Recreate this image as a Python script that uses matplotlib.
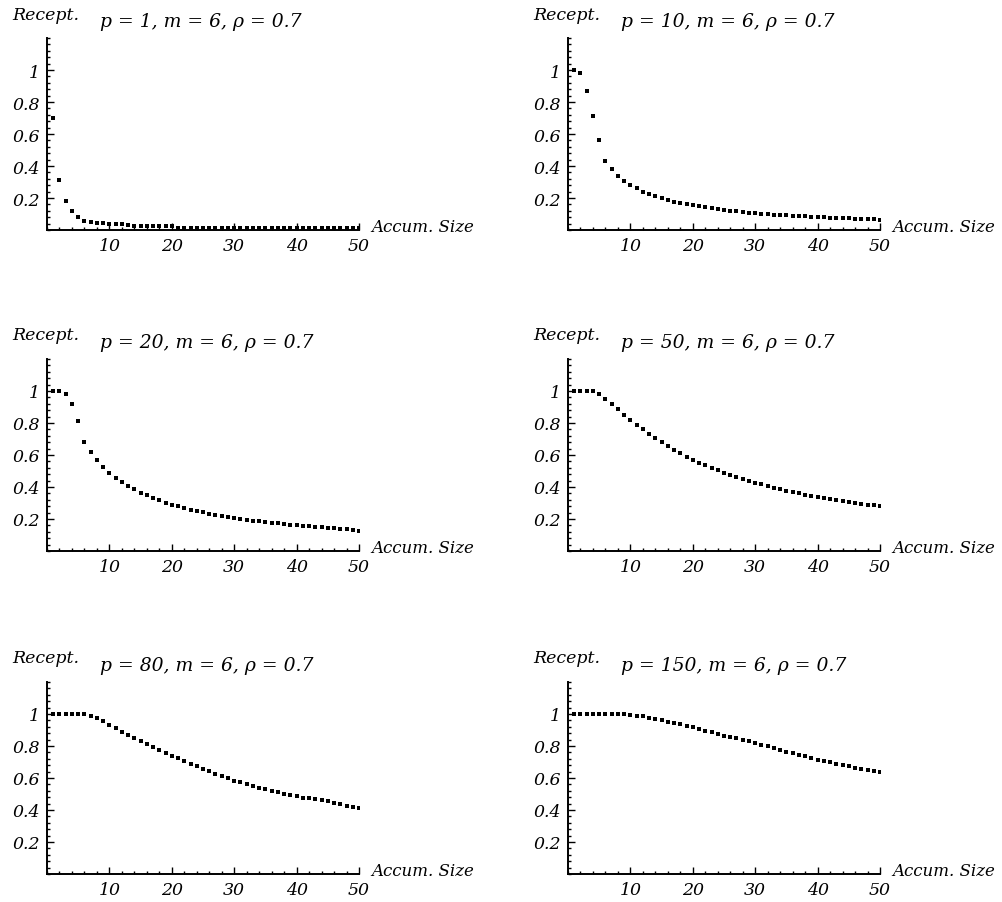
import numpy as np
import matplotlib
matplotlib.use("Agg")
import matplotlib.pyplot as plt
from matplotlib.ticker import MultipleLocator

plt.rcParams['font.family'] = ['DejaVu Serif']
plt.rcParams['font.style'] = 'italic'

#DATI

size = np.arange(1, 51)

p_values = [1, 10, 20, 50, 80, 150]
m_value = 6
rho_value = 0.7

recept_p1 = [0.70, 0.31, 0.18, 0.12, 0.08, 0.055, 0.048, 0.046, 0.044, 0.037,
             0.036, 0.035, 0.034, 0.028, 0.027, 0.027, 0.026, 0.026, 0.026, 0.025,
             0.014, 0.014, 0.013, 0.013, 0.013, 0.013, 0.013, 0.012, 0.012, 0.012,
             0.012, 0.012, 0.012, 0.012, 0.011, 0.011, 0.011, 0.011, 0.011, 0.011,
             0.011, 0.011, 0.010, 0.010, 0.010, 0.010, 0.010, 0.010, 0.010, 0.010]

recept_p10 = [1.0, 0.983, 0.87, 0.71, 0.56, 0.43, 0.38, 0.34, 0.306, 0.28,
              0.26, 0.24, 0.225, 0.21, 0.197, 0.187, 0.178, 0.17, 0.163, 0.156,
              0.15, 0.143, 0.137, 0.131, 0.126, 0.121, 0.117, 0.113, 0.109, 0.105,
              0.102, 0.099, 0.096, 0.094, 0.092, 0.089, 0.087, 0.085, 0.083, 0.081,
              0.079, 0.077, 0.076, 0.074, 0.073, 0.071, 0.070, 0.068, 0.066, 0.060]

recept_p20 = [1.0, 1.0, 0.983, 0.92, 0.81, 0.68, 0.62, 0.57, 0.525, 0.49,
              0.455, 0.43, 0.405, 0.385, 0.365, 0.347, 0.331, 0.316, 0.302, 0.29,
              0.279, 0.268, 0.258, 0.249, 0.241, 0.233, 0.226, 0.219, 0.212, 0.206,
              0.2, 0.195, 0.19, 0.185, 0.18, 0.176, 0.172, 0.168, 0.164, 0.16,
              0.157, 0.154, 0.151, 0.148, 0.145, 0.142, 0.139, 0.136, 0.133, 0.125]

recept_p50 = [1.0, 1.0, 1.0, 1.0, 0.98, 0.95, 0.92, 0.89, 0.85, 0.817,
              0.79, 0.76, 0.73, 0.705, 0.68, 0.655, 0.633, 0.612, 0.59, 0.57,
              0.553, 0.536, 0.52, 0.504, 0.49, 0.476, 0.463, 0.45, 0.438, 0.427,
              0.416, 0.405, 0.395, 0.386, 0.377, 0.368, 0.36, 0.352, 0.345, 0.338,
              0.331, 0.324, 0.318, 0.312, 0.306, 0.3, 0.295, 0.29, 0.285, 0.28]

recept_p80 = [1.0, 1.0, 1.0, 1.0, 1.0, 1.0, 0.99, 0.975, 0.955, 0.93,
              0.91, 0.89, 0.87, 0.85, 0.83, 0.81, 0.792, 0.774, 0.757, 0.74,
              0.723, 0.706, 0.689, 0.672, 0.656, 0.641, 0.626, 0.611, 0.597, 0.583,
              0.572, 0.561, 0.55, 0.54, 0.53, 0.521, 0.512, 0.503, 0.494, 0.485,
              0.478, 0.472, 0.466, 0.46, 0.454, 0.445, 0.436, 0.428, 0.419, 0.41]

recept_p150 = [1.0, 1.0, 1.0, 1.0, 1.0, 1.0, 1.0, 1.0, 1.0, 0.995,
               0.99, 0.985, 0.978, 0.97, 0.962, 0.953, 0.944, 0.935, 0.926, 0.917,
               0.906, 0.896, 0.886, 0.875, 0.865, 0.856, 0.847, 0.838, 0.829, 0.82,
               0.809, 0.798, 0.787, 0.776, 0.765, 0.755, 0.745, 0.735, 0.725, 0.715,
               0.707, 0.698, 0.69, 0.681, 0.673, 0.665, 0.658, 0.65, 0.643, 0.635]

series = [recept_p1, recept_p10, recept_p20, recept_p50, recept_p80, recept_p150]

y_ticks = [0.2, 0.4, 0.6, 0.8, 1.0]
y_labels = ['0.2', '0.4', '0.6', '0.8', '1']
x_ticks = [10, 20, 30, 40, 50]

#LAYOUT (posizioni in pixel dal riferimento)

W, H = 1002, 903
col_x = [47, 568]
row_top = [39, 360, 683]
ax_w, ax_h = 312, 192

fig = plt.figure(figsize=(W/100, H/100), dpi=100)

for i, (p, y) in enumerate(zip(p_values, series)):
    r, c = divmod(i, 2)
    left = col_x[c]/W
    bottom = 1 - (row_top[r] + ax_h)/H
    ax = fig.add_axes([left, bottom, ax_w/W, ax_h/H])

    ax.plot(size, y, linestyle='none', marker='s', markersize=2.3,
            markeredgewidth=0, color='black')

    ax.set_xlim(0, 50)
    ax.set_ylim(0, 1.2)
    ax.spines['top'].set_visible(False)
    ax.spines['right'].set_visible(False)
    ax.spines['left'].set_linewidth(1.4)
    ax.spines['bottom'].set_linewidth(1.4)

    ax.set_yticks(y_ticks)
    ax.set_yticklabels(y_labels)
    ax.set_xticks(x_ticks)
    ax.xaxis.set_minor_locator(MultipleLocator(2))
    ax.yaxis.set_minor_locator(MultipleLocator(0.04))
    ax.tick_params(which='both', direction='in', width=1, labelsize=12.5)
    ax.tick_params(which='major', length=5)
    ax.tick_params(which='minor', length=2.5)
    ax.tick_params(axis='x', pad=5)
    ax.tick_params(axis='y', pad=5)

    ax.text(-0.112, 1.125, 'Recept.', transform=ax.transAxes, fontsize=12.5,
            ha='left', va='center')
    ax.text(0.17, 1.09, f'p = {p}, m = {m_value}, ρ = {rho_value}',
            transform=ax.transAxes, fontsize=13.5, ha='left', va='center')
    ax.text(1.04, 0.02, 'Accum. Size', transform=ax.transAxes, fontsize=12,
            ha='left', va='center')

fig.savefig('out.png', dpi=100)
